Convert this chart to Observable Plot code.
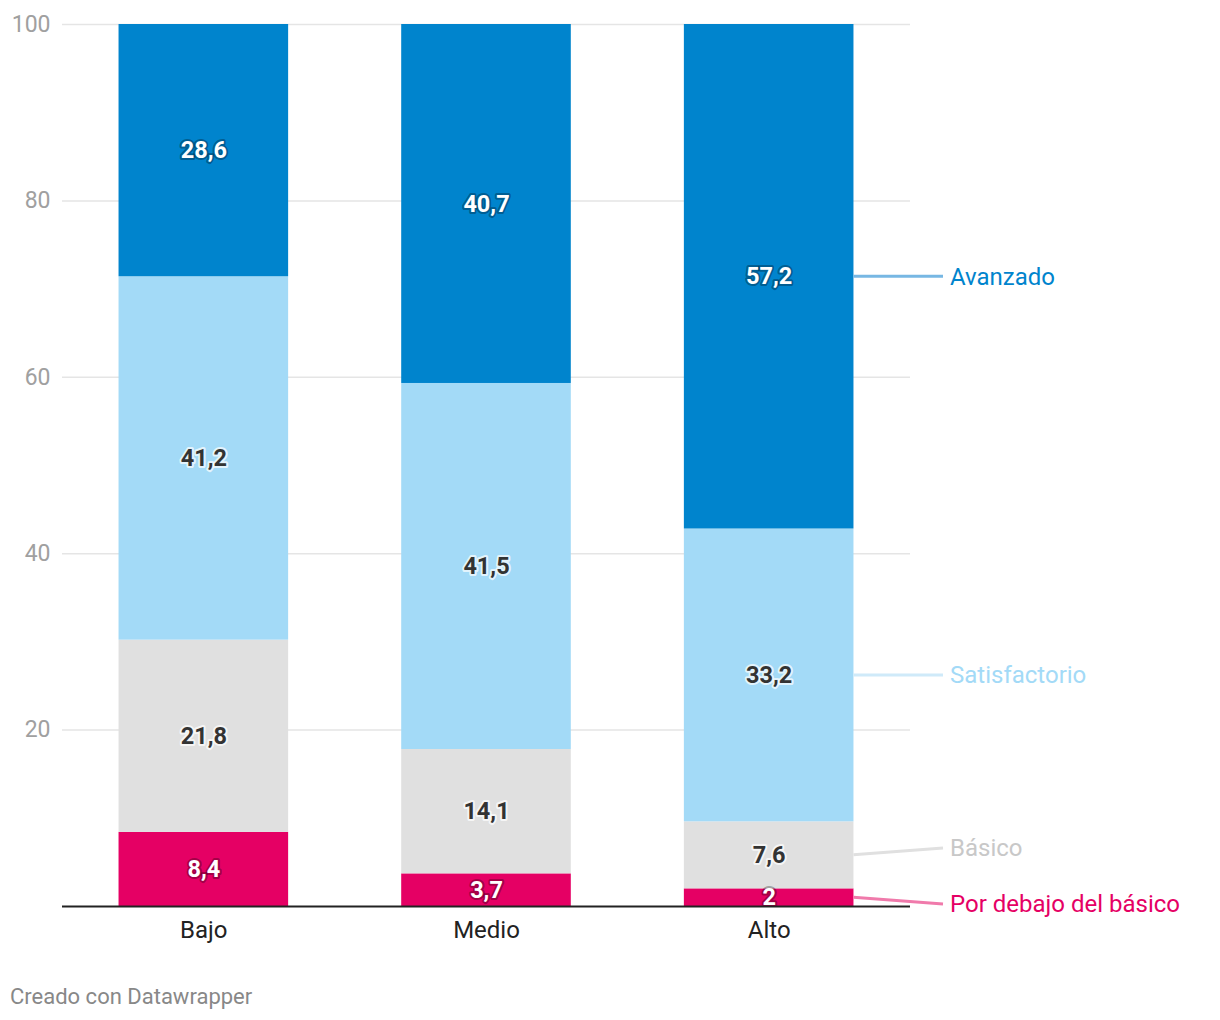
<!DOCTYPE html>
<html><head><meta charset="utf-8">
<script src="https://cdn.jsdelivr.net/npm/d3@7"></script>
<script src="https://cdn.jsdelivr.net/npm/@observablehq/plot@0.6"></script>
<style>
body{margin:0;background:#fff;font-family:Roboto,sans-serif}
#caption{margin:25px 0 0 10px;font-size:22px;color:#888;line-height:24px}
</style>
</head><body>
<div id="chart"></div>
<div id="caption">Creado con Datawrapper</div>
<script>
const groups = ["Bajo", "Medio", "Alto"];
const levels = ["Por debajo del básico", "Básico", "Satisfactorio", "Avanzado"];
const porDebajo = [8.4, 3.7, 2];
const basico = [21.8, 14.1, 7.6];
const satisfactorio = [41.2, 41.5, 33.2];
const avanzado = [28.6, 40.7, 57.2];
const yTicks = [20, 40, 60, 80, 100];
const colors = ["#e50064", "#e0e0e0", "#a3daf7", "#0084cd"];
const labelColors = ["#e50064", "#c8c8c8", "#a3daf7", "#0084cd"];
const lineColors = ["#f07aab", "#e0e0e0", "#cfeaf9", "#77b7e3"];

const series = [porDebajo, basico, satisfactorio, avanzado];
const data = [];
levels.forEach((lvl, li) => groups.forEach((g, gi) => data.push({group: g, level: lvl, value: series[li][gi]})));
const darkLevels = new Set(["Por debajo del básico", "Avanzado"]);
const fmt = v => String(v).replace(".", ",");

const W = 1220, H = 960, ML = 62, MR = 310, MT = 24, MB = 54;

const chart = Plot.plot({
  width: W,
  height: H,
  marginLeft: ML,
  marginRight: MR,
  marginTop: MT,
  marginBottom: MB,
  style: {fontFamily: "Roboto, sans-serif", background: "white", overflow: "visible"},
  x: {domain: groups, paddingInner: 0.4, paddingOuter: 0.2, round: false, label: null},
  y: {domain: [0, 100], label: null},
  color: {domain: levels, range: colors},
  marks: [
    Plot.ruleY(yTicks, {stroke: "#e5e5e5", strokeWidth: 1.5}),
    Plot.barY(data, {x: "group", y: "value", fill: "level", order: levels}),
    Plot.text(data, Plot.filter(d => darkLevels.has(d.level), Plot.stackY({
      x: "group", y: "value", z: "level", order: levels,
      text: d => fmt(d.value), fill: "white", fontSize: 23.5, fontWeight: 700,
      stroke: "#000", strokeOpacity: 0.3, strokeWidth: 4, strokeLinejoin: "round"
    }))),
    Plot.text(data, Plot.filter(d => !darkLevels.has(d.level), Plot.stackY({
      x: "group", y: "value", z: "level", order: levels,
      text: d => fmt(d.value), fill: "#333", fontSize: 23.5, fontWeight: 700,
      stroke: "#fff", strokeOpacity: 0.7, strokeWidth: 4, strokeLinejoin: "round"
    }))),
    Plot.ruleY([0], {stroke: "#222", strokeWidth: 2}),
    Plot.axisY({ticks: yTicks, tickSize: 0, tickPadding: 12, fontSize: 23, fill: "#a0a0a0", label: null}),
    Plot.axisX({tickSize: 0, tickPadding: 14, fontSize: 24, fill: "#222", label: null})
  ]
});
document.getElementById("chart").appendChild(chart);

// Right-hand direct labels for the last group, positioned with the chart's own scales
const sx = chart.scale("x"), sy = chart.scale("y");
const lastIdx = groups.length - 1;
const lastGroup = groups[lastIdx];
const x1 = sx.apply(lastGroup) + sx.bandwidth;
const xr = W - MR;
const items = levels.map((lvl, li) => {
  let base = 0;
  for (let k = 0; k < li; k++) base += series[k][lastIdx];
  const py = sy.apply(base + series[li][lastIdx] / 2);
  return {level: lvl, i: li, py, ly: py};
});
const sorted = items.slice().sort((a, b) => a.py - b.py);
const gap = 56;
for (let iter = 0; iter < 50; iter++) {
  for (let k = 1; k < sorted.length; k++) {
    const a = sorted[k - 1], b = sorted[k];
    const ov = gap - (b.ly - a.ly);
    if (ov > 0.01) { a.ly -= ov / 2; b.ly += ov / 2; }
  }
}
const svg = d3.select(chart.tagName.toLowerCase() === "svg" ? chart : chart.querySelector("svg"));
const g = svg.append("g").attr("font-family", "Roboto, sans-serif").attr("text-anchor", "start");
items.forEach(d => {
  g.append("line")
    .attr("x1", x1).attr("y1", d.py)
    .attr("x2", xr + 33).attr("y2", d.ly)
    .attr("stroke", lineColors[d.i]).attr("stroke-width", 3);
  g.append("text")
    .attr("x", xr + 40).attr("y", d.ly).attr("dy", "0.35em")
    .attr("text-anchor", "start")
    .attr("font-size", 24).attr("fill", labelColors[d.i])
    .text(d.level);
});
</script>
</body></html>
